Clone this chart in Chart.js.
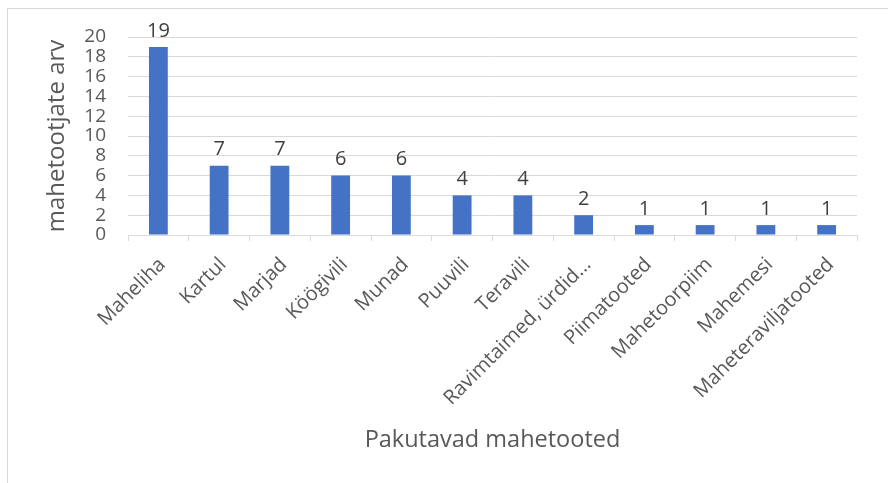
<!DOCTYPE html>
<html>
<head>
<meta charset="utf-8">
<script src="https://cdn.jsdelivr.net/npm/chart.js@4.4.0/dist/chart.umd.min.js"></script>
<style>
  body { margin: 0; background: #fff; overflow: hidden; }
  #frame { position: absolute; left: 7px; top: 8px; width: 920px; height: 520px; border: 1px solid #d9d9d9; }
  #myChart { position: absolute; left: 0; top: 0; }
</style>
</head>
<body>
<div id="frame"></div>
<canvas id="myChart" width="888" height="483"></canvas>
<script>
const categories = ['Maheliha', 'Kartul', 'Marjad', 'Köögivili', 'Munad', 'Puuvili', 'Teravili',
  'Ravimtaimed, ürdid…', 'Piimatooted', 'Mahetoorpiim', 'Mahemesi', 'Maheteraviljatooted'];
const producers = [19, 7, 7, 6, 6, 4, 4, 2, 1, 1, 1, 1];
const yTicks = [0, 2, 4, 6, 8, 10, 12, 14, 16, 18, 20];

// values above the bars
const barLabels = {
  id: 'barLabels',
  afterDatasetsDraw(chart) {
    const c = chart.ctx;
    const meta = chart.getDatasetMeta(0);
    c.save();
    c.font = '20px "Open Sans"';
    c.fillStyle = '#404040';
    c.textAlign = 'center';
    c.textBaseline = 'bottom';
    meta.data.forEach((bar, i) => {
      c.fillText(producers[i], bar.x, bar.y - 6);
    });
    c.restore();
  }
};

const ctx = document.getElementById('myChart').getContext('2d');
const myChart = new Chart(ctx, {
  type: 'bar',
  data: {
    labels: categories,
    datasets: [{
      label: 'mahetootjate arv',
      data: producers,
      backgroundColor: '#4472C4',
      categoryPercentage: 1,
      barPercentage: 0.31
    }]
  },
  plugins: [barLabels],
  options: {
    responsive: false,
    animation: false,
    layout: { padding: { top: 37, right: 31, left: 0, bottom: 0 } },
    plugins: {
      legend: { display: false },
      tooltip: { enabled: false }
    },
    scales: {
      x: {
        grid: { drawOnChartArea: false, drawTicks: true, tickLength: 6, color: '#d9d9d9' },
        border: { color: '#d9d9d9' },
        ticks: {
          maxRotation: 45, minRotation: 45, autoSkip: false, labelOffset: 4,
          color: '#595959', font: { family: 'Open Sans', size: 20 }, padding: 12
        },
        title: {
          display: true, text: 'Pakutavad mahetooted', color: '#595959',
          font: { family: 'Open Sans', size: 23.5 }, padding: { top: 0, bottom: 29 }
        },
        afterFit(scale) { scale.height = 248; }
      },
      y: {
        min: 0, max: 20,
        grid: { color: '#d9d9d9', drawTicks: false },
        border: { display: false },
        afterBuildTicks(scale) { scale.ticks = yTicks.map(v => ({ value: v })); },
        ticks: { autoSkip: false, color: '#595959', font: { family: 'Open Sans', size: 19 }, padding: 22 },
        title: {
          display: true, text: 'mahetootjate arv', color: '#595959',
          font: { family: 'Open Sans', size: 24 }, padding: { top: 43, bottom: 0 }
        },
        afterFit(scale) { scale.width = 128; }
      }
    }
  }
});
</script>
</body>
</html>
